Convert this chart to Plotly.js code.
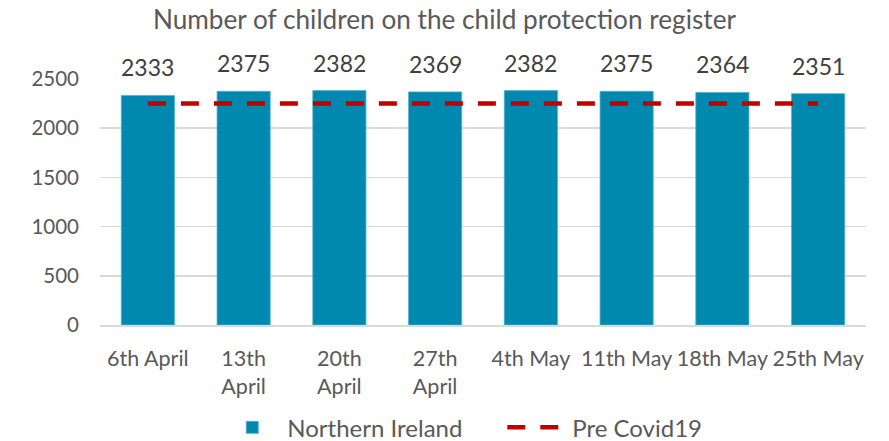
<!DOCTYPE html>
<html>
<head>
<meta charset="utf-8">
<script src="https://cdn.plot.ly/plotly-3.0.1.min.js"></script>
<style>html,body{margin:0;padding:0;background:#fff;}#chart{width:889px;height:441px;}</style>
</head>
<body>
<div id="chart"></div>
<script>
const categories = ["6th April", "13th<br>April", "20th<br>April", "27th<br>April", "4th May", "11th May", "18th May", "25th May"];
const northernIreland = [2333, 2375, 2382, 2369, 2382, 2375, 2364, 2351];
const preCovid = [2250, 2250, 2250, 2250, 2250, 2250, 2250, 2250];
const yTicks = [0, 500, 1000, 1500, 2000, 2500];

const FONT = "Lato, 'Open Sans', sans-serif";
const GREY = "#595959";

const traces = [
  {
    type: "bar",
    name: "Northern Ireland",
    x: categories,
    y: northernIreland,
    marker: {color: "#0088AE", line: {color: "#4FB0CC", width: 0.8}},
    hoverinfo: "x+y"
  },
  {
    type: "scatter",
    mode: "lines",
    name: "Pre Covid19",
    x: categories,
    y: preCovid,
    line: {color: "#C00000", width: 4.5, dash: "18px,15px"}
  }
];

const annotations = categories.map((c, i) => ({
  x: c, y: northernIreland[i], xref: "x", yref: "y",
  text: String(northernIreland[i]), showarrow: false,
  yanchor: "bottom", yshift: 12,
  font: {family: FONT, size: 23, color: "#404040"}
}));

const layout = {
  width: 889, height: 441,
  margin: {l: 100, r: 23, t: 79, b: 116},
  paper_bgcolor: "#fff", plot_bgcolor: "#fff",
  font: {family: FONT, color: GREY, size: 20},
  title: {text: "Number of children on the child protection register", x: 0.5, xanchor: "center", y: 0.955, yanchor: "middle",
          font: {family: FONT, size: 26.2, color: GREY}},
  bargap: 0.445,
  showlegend: true,
  legend: {orientation: "h", x: 0.565, xanchor: "center", xref: "container", y: 0.03, yanchor: "middle", yref: "container",
           font: {family: FONT, size: 24, color: GREY}, itemwidth: 60, entrywidth: 210, entrywidthmode: "pixels"},
  xaxis: {type: "category", showgrid: false, showline: true, linecolor: "#d9d9d9", linewidth: 1.5,
          ticks: "", ticklabelstandoff: 14, tickfont: {family: FONT, size: 21.5, color: GREY}, automargin: false},
  yaxis: {range: [0, 2500], tickvals: yTicks, showgrid: true, gridcolor: "#d9d9d9", gridwidth: 1.5,
          zeroline: false, showline: false, ticks: "", ticklabelstandoff: 20,
          tickfont: {family: FONT, size: 20.5, color: GREY}, automargin: false},
  annotations: annotations
};

Plotly.newPlot("chart", traces, layout, {displayModeBar: false, staticPlot: true});
</script>
</body>
</html>
